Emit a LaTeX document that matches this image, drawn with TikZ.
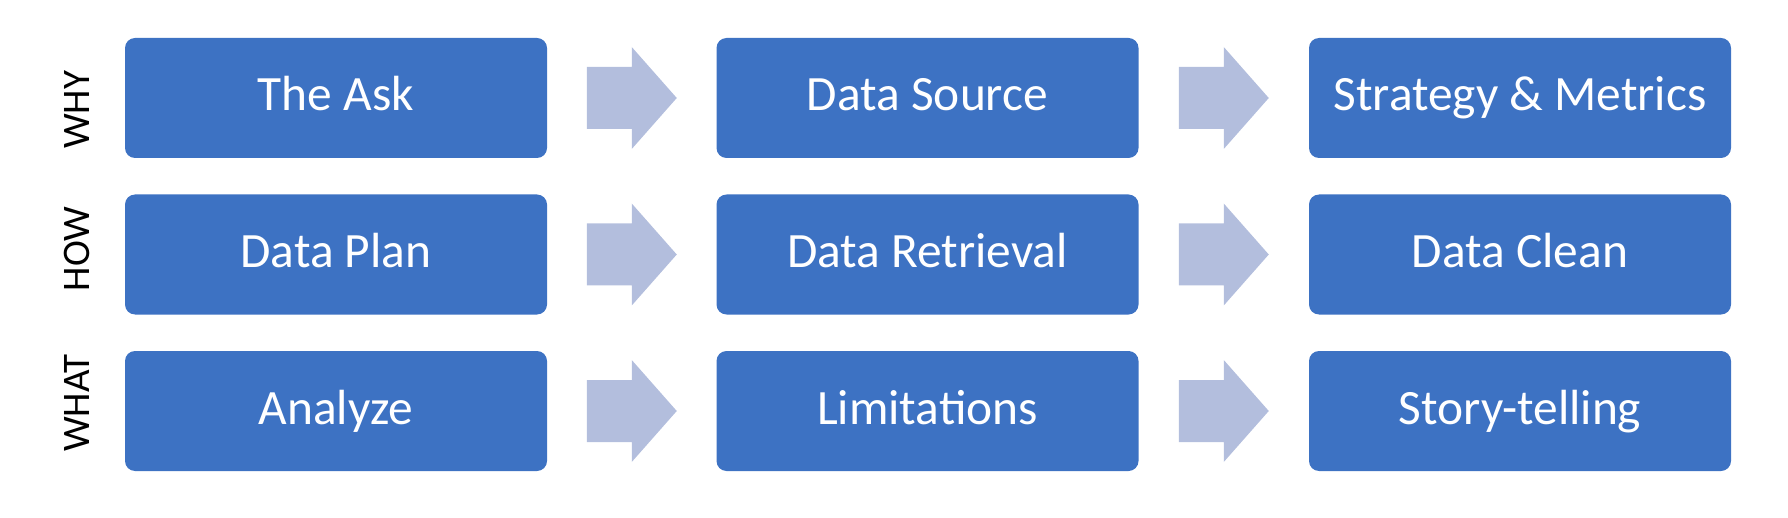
\documentclass[tikz,border=0pt]{standalone}
\usepackage{fontspec}
\setmainfont{Carlito}
\usetikzlibrary{calc}
\definecolor{boxblue}{RGB}{61,114,195}
\definecolor{arrowgray}{RGB}{179,190,221}

\begin{document}
\begin{tikzpicture}[x=0.5pt, y=-0.5pt,
  stepbox/.style={fill=boxblue, rounded corners=5pt, inner sep=0pt,
    minimum width=211pt, minimum height=60pt, text=white,
    font=\fontsize{24.7}{30}\selectfont, text height=18pt, text depth=5pt},
  rowlabel/.style={rotate=90, inner sep=0pt, font=\fontsize{19.5}{23}\selectfont}]
  \useasboundingbox (0,0) rectangle (1788,518);
  % rows of steps
  \foreach \r/\y/\lbl/\ly/\sa/\sb/\sc in {
      1/98/WHY/110/The Ask/Data Source/Strategy \& Metrics,
      2/254.5/HOW/249/Data Plan/Data Retrieval/Data Clean,
      3/411/WHAT/403/Analyze/Limitations/Story-telling} {
    \node[rowlabel] (lbl\r) at (77,\ly) {\lbl};
    \node[stepbox] (b\r1) at (336,\y) {\sa};
    \node[stepbox] (b\r2) at (927.5,\y) {\sb};
    \node[stepbox] (b\r3) at (1520,\y) {\sc};
  }
  % block arrows between the steps
  \foreach \r in {1,2,3}
    \foreach \c/\n in {1/2,2/3} {
      \coordinate (m\r\c) at ($(b\r\c.east)!0.5!(b\r\n.west)$);
      \fill[arrowgray, shift={(m\r\c)}] (-45,-31) -- (0,-31) -- (0,-51)
        -- (45,0) -- (0,51) -- (0,31) -- (-45,31) -- cycle;
    }
\end{tikzpicture}
\end{document}
